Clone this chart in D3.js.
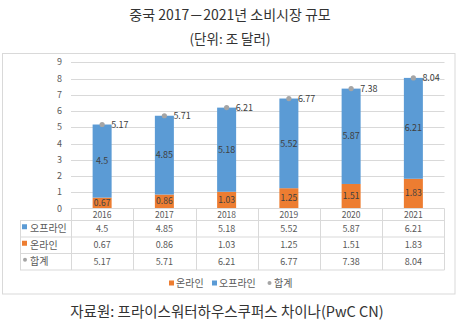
<!DOCTYPE html>
<html><head><meta charset="utf-8">
<script src="https://cdn.jsdelivr.net/npm/d3@7"></script>
<style>body{margin:0;background:#fff;}svg{display:block;}</style>
</head><body>
<svg id="c" width="460" height="323"></svg>
<script>
const years = ["2016","2017","2018","2019","2020","2021"];
const offline = [4.5, 4.85, 5.18, 5.52, 5.87, 6.21];
const online = [0.67, 0.86, 1.03, 1.25, 1.51, 1.83];
const total = [5.17, 5.71, 6.21, 6.77, 7.38, 8.04];
const yTicks = [0,1,2,3,4,5,6,7,8,9];
const titleText = "중국 2017－2021년 소비시장 규모";
const subtitleText = "(단위: 조 달러)";
const sourceText = "자료원: 프라이스워터하우스쿠퍼스 차이나(PwC CN)";
const seriesNames = {offline:"오프라인", online:"온라인", total:"합계"};

const C = {blue:"#5B9BD5", orange:"#ED7D31", gray:"#A5A5A5", grid:"#D9D9D9", text:"#595959"};
const font = "'Noto Sans CJK KR','Noto Sans',sans-serif";
const svg = d3.select("#c");

svg.append("text").attr("x",230).attr("y",20).attr("text-anchor","middle")
  .attr("font-family",font).attr("font-size",14).attr("fill","#333").text(titleText);
svg.append("text").attr("x",230).attr("y",44).attr("text-anchor","middle")
  .attr("font-family",font).attr("font-size",13.5).attr("fill","#333").text(subtitleText);

// chart frame
svg.append("rect").attr("x",2.5).attr("y",53.5).attr("width",452.5).attr("height",240.5)
  .attr("fill","#fff").attr("stroke",C.grid);

const x = d3.scaleBand().domain(years).range([71,444.5]);
const y = d3.scaleLinear().domain([0,9]).range([208.5,62.3]);

// gridlines
svg.append("g").selectAll("line").data(yTicks.slice(1)).join("line")
  .attr("x1",71).attr("x2",444.5)
  .attr("y1",d=>Math.round(y(d))+0.5).attr("y2",d=>Math.round(y(d))+0.5)
  .attr("stroke",C.grid);

// y axis labels
svg.append("g").selectAll("text").data(yTicks).join("text")
  .attr("x",62).attr("y",d=>y(d)).attr("dy","0.35em").attr("text-anchor","end")
  .attr("font-family",font).attr("font-size",9).attr("fill",C.text).text(d=>d);

const bw = 19;
const cx = d => x(d)+x.bandwidth()/2;
// online (bottom)
svg.append("g").selectAll("rect").data(years).join("rect")
  .attr("x",d=>cx(d)-bw/2).attr("width",bw)
  .attr("y",(d,i)=>y(online[i])).attr("height",(d,i)=>y(0)-y(online[i]))
  .attr("fill",C.orange);
// offline (stacked)
svg.append("g").selectAll("rect").data(years).join("rect")
  .attr("x",d=>cx(d)-bw/2).attr("width",bw)
  .attr("y",(d,i)=>y(online[i]+offline[i])).attr("height",(d,i)=>y(online[i])-y(online[i]+offline[i]))
  .attr("fill",C.blue);

// labels inside bars
svg.append("g").selectAll("text").data(years).join("text")
  .attr("x",d=>cx(d)).attr("y",(d,i)=>y(online[i]/2)-0.5).attr("dy","0.35em").attr("text-anchor","middle")
  .attr("font-family",font).attr("font-size",8.5).attr("fill","#404040").text((d,i)=>online[i]);
svg.append("g").selectAll("text").data(years).join("text")
  .attr("x",d=>cx(d)).attr("y",(d,i)=>y(online[i]+offline[i]/2)).attr("dy","0.35em").attr("text-anchor","middle")
  .attr("font-family",font).attr("font-size",9).attr("fill","#404040").text((d,i)=>offline[i]);

// total points
svg.append("g").selectAll("circle").data(years).join("circle")
  .attr("cx",d=>cx(d)).attr("cy",(d,i)=>y(total[i])).attr("r",2.6).attr("fill",C.gray);
svg.append("g").selectAll("text").data(years).join("text")
  .attr("x",d=>cx(d)+9).attr("y",(d,i)=>y(total[i])).attr("dy","0.35em")
  .attr("font-family",font).attr("font-size",9).attr("fill","#404040").text((d,i)=>total[i].toFixed(2));

// data table
const rowsY = [208.5, 220.5, 237, 253.5, 270];
const tg = svg.append("g").attr("stroke",C.grid).attr("fill","none");
tg.append("line").attr("x1",71).attr("x2",444.5).attr("y1",rowsY[0]).attr("y2",rowsY[0]);
rowsY.slice(1).forEach(v=>tg.append("line").attr("x1",20).attr("x2",444.5).attr("y1",v).attr("y2",v));
tg.append("line").attr("x1",20.5).attr("x2",20.5).attr("y1",rowsY[1]).attr("y2",rowsY[4]);
years.forEach(d=>tg.append("line").attr("x1",Math.round(x(d))+0.5).attr("x2",Math.round(x(d))+0.5).attr("y1",rowsY[0]).attr("y2",rowsY[4]));
tg.append("line").attr("x1",444.5).attr("x2",444.5).attr("y1",rowsY[0]).attr("y2",rowsY[4]);

svg.append("g").selectAll("text").data(years).join("text")
  .attr("x",d=>cx(d)).attr("y",(rowsY[0]+rowsY[1])/2+0.8).attr("dy","0.35em").attr("text-anchor","middle")
  .attr("font-family",font).attr("font-size",8.5).attr("fill",C.text).text(d=>d);

const rows = [
  {name:seriesNames.offline, vals:offline, color:C.blue, shape:"sq"},
  {name:seriesNames.online, vals:online, color:C.orange, shape:"sq"},
  {name:seriesNames.total, vals:total.map(v=>v.toFixed(2)), color:C.gray, shape:"ci"}
];
rows.forEach((r,ri)=>{
  const ym = (rowsY[ri+1]+rowsY[ri+2])/2;
  if(r.shape==="sq") svg.append("rect").attr("x",22).attr("y",ym-4.5).attr("width",5).attr("height",5).attr("fill",r.color);
  else svg.append("circle").attr("cx",25).attr("cy",ym-2).attr("r",2).attr("fill",r.color);
  svg.append("text").attr("x",30).attr("y",ym).attr("dy","0.35em")
    .attr("font-family",font).attr("font-size",10).attr("fill",C.text).text(r.name);
  svg.append("g").selectAll("text").data(years).join("text")
    .attr("x",d=>cx(d)).attr("y",ym).attr("dy","0.35em").attr("text-anchor","middle")
    .attr("font-family",font).attr("font-size",9).attr("fill",C.text).text((d,i)=>r.vals[i]);
});

// legend
const legend = [
  {name:seriesNames.online, color:C.orange, shape:"sq", x:169},
  {name:seriesNames.offline, color:C.blue, shape:"sq", x:212},
  {name:seriesNames.total, color:C.gray, shape:"ci", x:267}
];
const ly = 283;
legend.forEach(l=>{
  if(l.shape==="sq") svg.append("rect").attr("x",l.x).attr("y",ly-2.5).attr("width",5).attr("height",5).attr("fill",l.color);
  else svg.append("circle").attr("cx",l.x+2.5).attr("cy",ly).attr("r",2).attr("fill",l.color);
  svg.append("text").attr("x",l.x+7).attr("y",ly).attr("dy","0.35em")
    .attr("font-family",font).attr("font-size",10).attr("fill",C.text).text(l.name);
});

svg.append("text").attr("x",227).attr("y",312).attr("dy","0.35em").attr("text-anchor","middle")
  .attr("font-family",font).attr("font-size",14.5).attr("fill","#333").text(sourceText);
</script>
</body></html>
